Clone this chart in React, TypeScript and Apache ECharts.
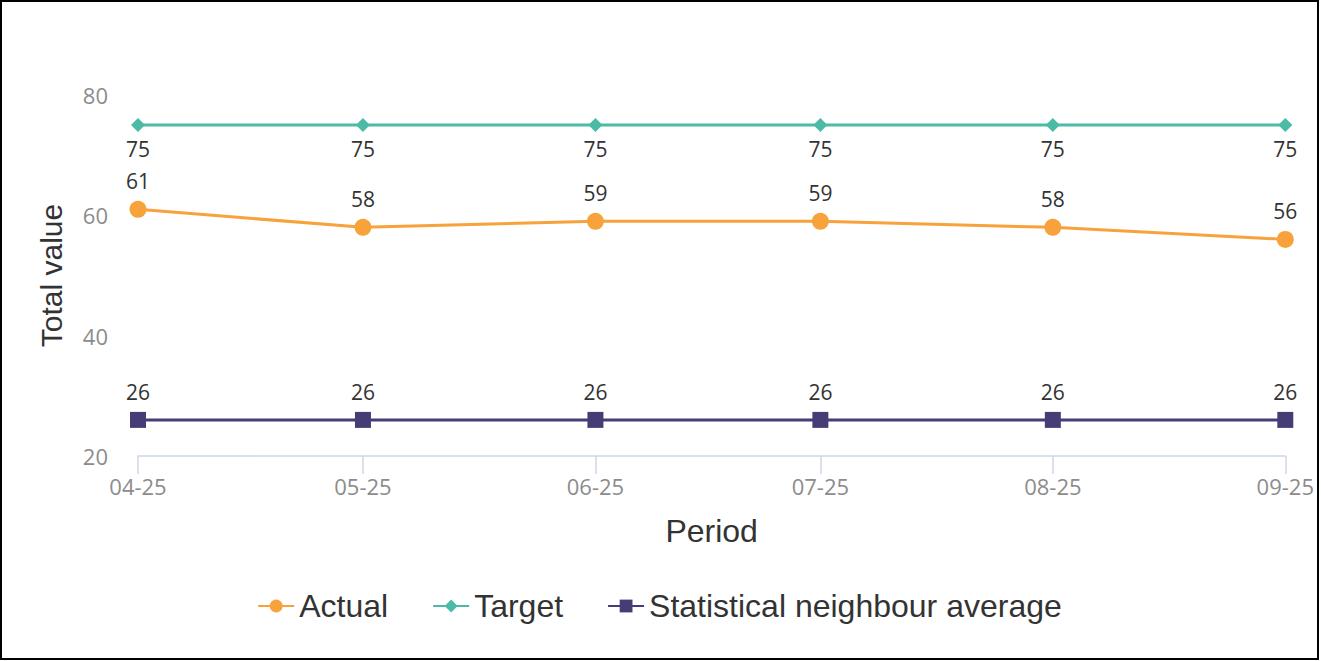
import React, { useEffect, useRef } from "react";
import * as echarts from "echarts";

const periods = ["04-25", "05-25", "06-25", "07-25", "08-25", "09-25"];
const actualValues = [61, 58, 59, 59, 58, 56];
const targetValues = [75, 75, 75, 75, 75, 75];
const neighbourValues = [26, 26, 26, 26, 26, 26];
const yTicks = { min: 20, max: 80, interval: 20 };

const DAY = 86400000;
const toDay = (p: string) => {
  const [mm, yy] = p.split("-").map(Number);
  return Math.round(Date.UTC(2000 + yy, mm - 1, 1) / DAY);
};
const days = periods.map(toDay);
const pad = (n: number) => (n < 10 ? "0" + n : "" + n);
const fmt = (v: number) => {
  const d = new Date(v * DAY);
  return pad(d.getUTCMonth() + 1) + "-" + pad(d.getUTCFullYear() % 100);
};

export default function App() {
  const ref = useRef<HTMLDivElement>(null);
  useEffect(() => {
    document.body.style.margin = "0";
    const chart = echarts.init(ref.current!, null, { renderer: "svg" });
    const labelStyle = {
      show: true,
      fontFamily: "Open Sans",
      fontSize: 21,
      color: "#333",
    };
    chart.setOption({
      animation: false,
      grid: { left: 136, right: 29, top: 93, bottom: 202 },
      legend: {
        top: 583,
        left: "center",
        itemWidth: 36,
        itemHeight: 16,
        itemGap: 44,
        textStyle: { fontFamily: "Liberation Sans", fontSize: 32, color: "#333" },
        data: ["Actual", "Target", "Statistical neighbour average"],
      },
      xAxis: {
        type: "value",
        min: days[0],
        max: days[days.length - 1],
        name: "Period",
        nameLocation: "middle",
        nameGap: 59,
        nameTextStyle: { fontFamily: "Liberation Sans", fontSize: 32, color: "#333" },
        axisLine: { show: true, lineStyle: { color: "#ccd6eb", width: 1.5 } },
        axisTick: { show: true, length: 18, customValues: days, lineStyle: { color: "#ccd6eb", width: 1.5 } },
        axisLabel: {
          customValues: days,
          formatter: (v: number) => fmt(v),
          margin: 19,
          fontFamily: "Open Sans",
          fontSize: 22,
          color: "#8c8c8c",
          showMinLabel: true,
          showMaxLabel: true,
        },
        splitLine: { show: false },
      },
      yAxis: {
        type: "value",
        min: yTicks.min,
        max: yTicks.max,
        interval: yTicks.interval,
        name: "Total value",
        nameLocation: "middle",
        nameGap: 72,
        nameTextStyle: { fontFamily: "Liberation Sans", fontSize: 30, color: "#333" },
        axisLine: { show: false },
        axisTick: { show: false },
        splitLine: { show: false },
        axisLabel: { margin: 30, fontFamily: "Open Sans", fontSize: 22, color: "#8c8c8c" },
      },
      series: [
        {
          name: "Actual",
          type: "line",
          data: days.map((t, i) => [t, actualValues[i]]),
          color: "#f7a23b",
          lineStyle: { width: 3 },
          symbol: "circle",
          symbolSize: 17,
          label: { ...labelStyle, position: "top", distance: 9 },
        },
        {
          name: "Target",
          type: "line",
          data: days.map((t, i) => [t, targetValues[i]]),
          color: "#4cbba6",
          lineStyle: { width: 3 },
          symbol: "diamond",
          symbolSize: 14,
          label: { ...labelStyle, position: "bottom", distance: 6 },
        },
        {
          name: "Statistical neighbour average",
          type: "line",
          data: days.map((t, i) => [t, neighbourValues[i]]),
          color: "#473d76",
          lineStyle: { width: 3 },
          symbol: "rect",
          symbolSize: 16,
          label: { ...labelStyle, position: "top", distance: 9 },
        },
      ],
    });
    return () => chart.dispose();
  }, []);
  return (
    <div
      style={{
        position: "absolute",
        left: 0,
        top: 0,
        width: 1319,
        height: 660,
        boxSizing: "border-box",
        border: "2px solid #000",
        background: "#fff",
      }}
    >
      <div ref={ref} style={{ width: "100%", height: "100%" }} />
    </div>
  );
}
